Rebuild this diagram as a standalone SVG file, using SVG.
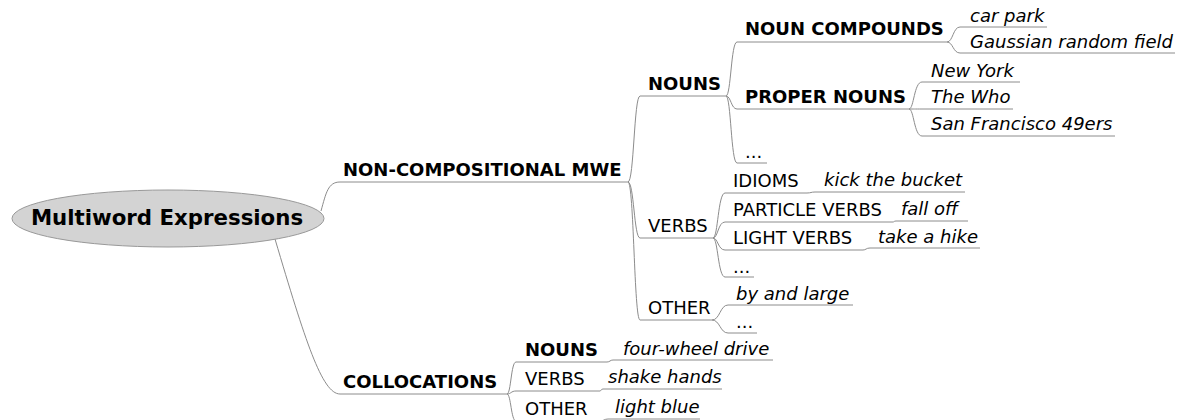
<svg xmlns="http://www.w3.org/2000/svg" width="1177" height="420" viewBox="0 0 1177 420">
<style>
text{font-family:"DejaVu Sans","Liberation Sans",sans-serif;fill:#000}
.b{font-weight:bold;font-size:18px}
.r{font-size:18px}
.i{font-size:18px;font-style:italic}
.root{font-weight:bold;font-size:21.3px}
.ul,.c{fill:none;stroke:#8c8c8c;stroke-width:1}
</style>
<rect width="1177" height="420" fill="#fff"/>
<g id="connectors">
<path class="c" d="M321 211 C326 193 328 182 340 182"/>
<path class="c" d="M275 239 C305 340 322 394 340 394"/>
<path class="c" d="M628 182 C634 182 634 96 640 96"/>
<path class="c" d="M628 182 C634 182 634 238 640 238"/>
<path class="c" d="M628 182 C634 182 634 320 640 320"/>
<path class="c" d="M726 96 C731 96 731 42 737 42"/>
<path class="c" d="M726 96 C731 96 731 109 737 109"/>
<path class="c" d="M726 96 C731 96 731 163 737 163"/>
<path class="c" d="M947 42 C953 42 953 27 960 27"/>
<path class="c" d="M947 42 C953 42 953 53 960 53"/>
<path class="c" d="M909 109 C914 109 914 82 922 82"/>
<path class="c" d="M909 109 C914 109 914 109 922 109"/>
<path class="c" d="M909 109 C914 109 914 136 922 136"/>
<path class="c" d="M713 238 C718 238 718 193 725 193"/>
<path class="c" d="M713 238 C718 238 718 222 725 222"/>
<path class="c" d="M713 238 C718 238 718 250 725 250"/>
<path class="c" d="M713 238 C718 238 718 277 725 277"/>
<path class="c" d="M807 193 C811 193 811 192 815 192"/>
<path class="c" d="M893 222 C894 222 894 221 896 221"/>
<path class="c" d="M863 250 C866 250 866 248 870 248"/>
<path class="c" d="M712 320 C720 320 720 305 728 305"/>
<path class="c" d="M712 320 C720 320 720 333 728 333"/>
<path class="c" d="M507 394 C511 394 511 362 516 362"/>
<path class="c" d="M507 394 C511 394 511 391 516 391"/>
<path class="c" d="M507 394 C511 394 511 421 516 421"/>
<path class="c" d="M607 362 C610 362 610 360 613 360"/>
<path class="c" d="M600 391 C601 391 601 389 603 389"/>
<path class="c" d="M600 421 C604 421 604 419 608 419"/>
</g>
<g id="root">
<ellipse cx="168" cy="218.5" rx="156" ry="28.5" fill="#d3d3d3" stroke="#999"/>
<text class="root" x="167" y="225" text-anchor="middle">Multiword Expressions</text>
</g>
<g id="noncomp"><path class="ul" d="M340 182 H628"/><text class="b" x="343" y="176">NON-COMPOSITIONAL MWE</text></g>
<g id="collocations"><path class="ul" d="M340 394 H507"/><text class="b" x="343" y="388">COLLOCATIONS</text></g>
<g id="nc-nouns"><path class="ul" d="M640 96 H726"/><text class="b" x="648" y="90">NOUNS</text></g>
<g id="nc-verbs"><path class="ul" d="M640 238 H713"/><text class="r" x="648" y="232">VERBS</text></g>
<g id="nc-other"><path class="ul" d="M640 320 H712"/><text class="r" x="648" y="314">OTHER</text></g>
<g id="noun-compounds"><path class="ul" d="M737 42 H947"/><text class="b" x="745" y="35">NOUN COMPOUNDS</text></g>
<g id="proper-nouns"><path class="ul" d="M737 109 H909"/><text class="b" x="745" y="103">PROPER NOUNS</text></g>
<g id="nouns-more"><path class="ul" d="M737 163 H767"/><text class="r" x="745" y="158">...</text></g>
<g id="car-park"><path class="ul" d="M960 27 H1047"/><text class="i" x="970" y="22">car park</text></g>
<g id="gaussian"><path class="ul" d="M960 53 H1175"/><text class="i" x="970" y="48">Gaussian random field</text></g>
<g id="new-york"><path class="ul" d="M922 82 H1020"/><text class="i" x="931" y="77">New York</text></g>
<g id="the-who"><path class="ul" d="M922 109 H1013"/><text class="i" x="931" y="103">The Who</text></g>
<g id="sf49"><path class="ul" d="M922 136 H1115"/><text class="i" x="931" y="130">San Francisco 49ers</text></g>
<g id="idioms"><path class="ul" d="M725 193 H807"/><text class="r" x="733" y="187">IDIOMS</text></g>
<g id="particle-verbs"><path class="ul" d="M725 222 H893"/><text class="r" x="733" y="216">PARTICLE VERBS</text></g>
<g id="light-verbs"><path class="ul" d="M725 250 H863"/><text class="r" x="733" y="244">LIGHT VERBS</text></g>
<g id="verbs-more"><path class="ul" d="M725 277 H754"/><text class="r" x="733" y="273">...</text></g>
<g id="kick"><path class="ul" d="M815 192 H965"/><text class="i" x="824" y="186">kick the bucket</text></g>
<g id="fall-off"><path class="ul" d="M896 221 H968"/><text class="i" x="901" y="215">fall off</text></g>
<g id="take-hike"><path class="ul" d="M870 248 H980"/><text class="i" x="878" y="243">take a hike</text></g>
<g id="by-and-large"><path class="ul" d="M728 305 H853"/><text class="i" x="736" y="300">by and large</text></g>
<g id="other-more"><path class="ul" d="M728 333 H757"/><text class="r" x="736" y="328">...</text></g>
<g id="col-nouns"><path class="ul" d="M516 362 H607"/><text class="b" x="525" y="356">NOUNS</text></g>
<g id="col-verbs"><path class="ul" d="M516 391 H600"/><text class="r" x="525" y="385">VERBS</text></g>
<g id="col-other"><path class="ul" d="M516 421 H600"/><text class="r" x="525" y="415">OTHER</text></g>
<g id="four-wheel"><path class="ul" d="M613 360 H773"/><text class="i" x="623" y="355">four-wheel drive</text></g>
<g id="shake-hands"><path class="ul" d="M603 389 H722"/><text class="i" x="608" y="383">shake hands</text></g>
<g id="light-blue"><path class="ul" d="M608 419 H700"/><text class="i" x="615" y="413">light blue</text></g>
</svg>
